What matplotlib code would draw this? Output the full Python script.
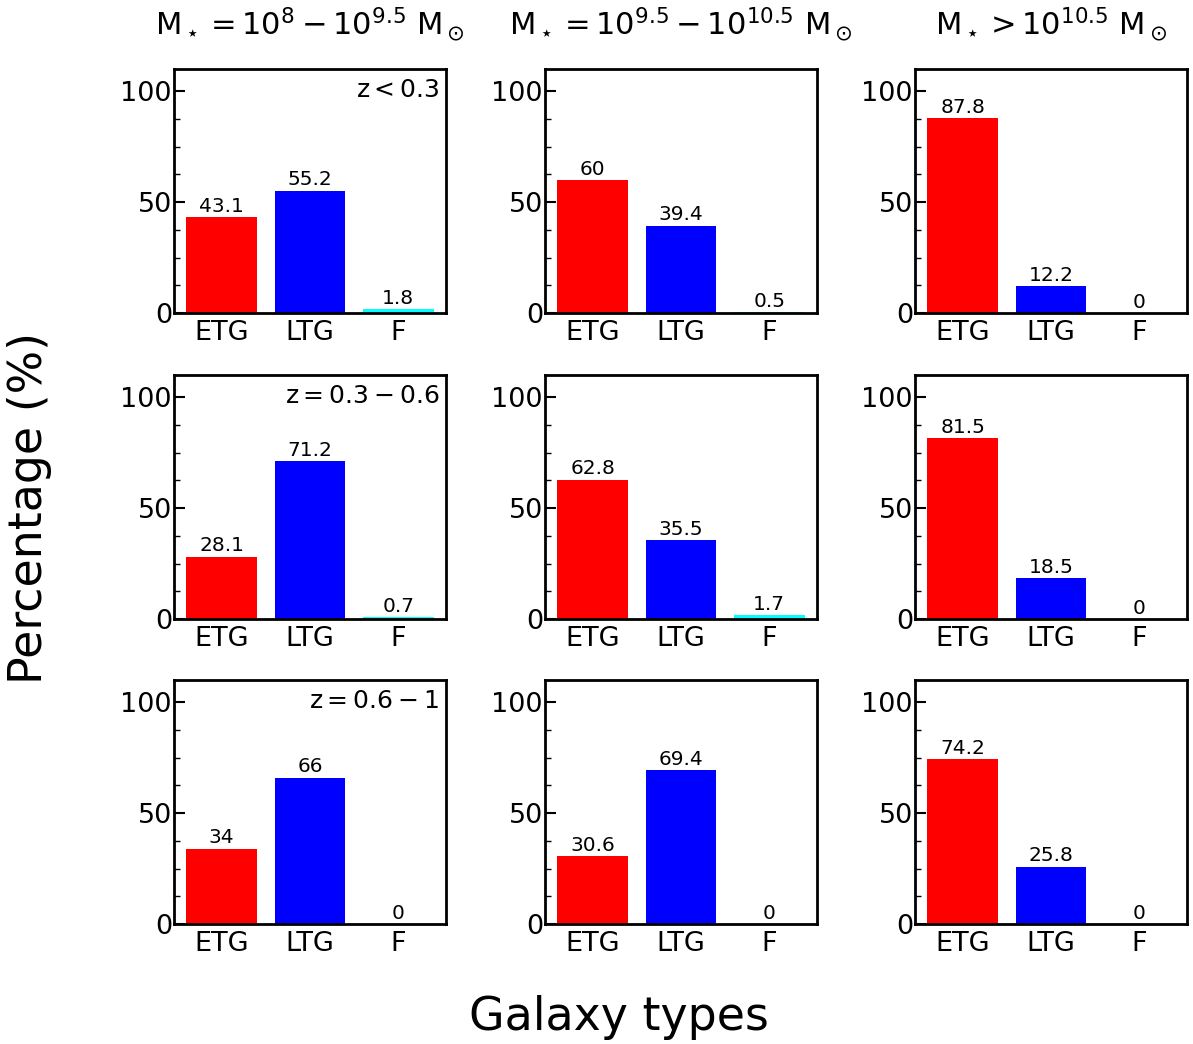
import matplotlib
matplotlib.use("Agg")
import matplotlib.pyplot as plt
from matplotlib.ticker import MultipleLocator

# Galaxy morphological fractions (%) per mass bin (columns) and redshift bin (rows)
categories = ["ETG", "LTG", "F"]
mass_titles = [
    r"M$_\star=10^{8}-10^{9.5}$ M$_\odot$",
    r"M$_\star=10^{9.5}-10^{10.5}$ M$_\odot$",
    r"M$_\star>10^{10.5}$ M$_\odot$",
]
z_labels = [r"$\mathrm{z<0.3}$", r"$\mathrm{z=0.3-0.6}$", r"$\mathrm{z=0.6-1}$"]

low_mass = [[43.1, 55.2, 1.8], [28.1, 71.2, 0.7], [34, 66, 0]]
mid_mass = [[60, 39.4, 0.5], [62.8, 35.5, 1.7], [30.6, 69.4, 0]]
high_mass = [[87.8, 12.2, 0], [81.5, 18.5, 0], [74.2, 25.8, 0]]

bar_colors = ["red", "blue", "cyan"]

W, H = 1193, 1044
fig = plt.figure(figsize=(W / 100, H / 100), dpi=100)

col_left = [174, 545, 915]
row_top = [69, 375, 680]
ax_w, ax_h = 272, 244

columns = [low_mass, mid_mass, high_mass]
for c, data in enumerate(columns):
    for r in range(3):
        ax = fig.add_axes([col_left[c] / W, 1 - (row_top[r] + ax_h) / H,
                           ax_w / W, ax_h / H])
        vals = data[r]
        bars = ax.bar(range(len(categories)), vals, width=0.8, color=bar_colors)
        ax.bar_label(bars, labels=[f"{v:g}" for v in vals], padding=1,
                     fontsize=14.5)
        ax.set_ylim(0, 110)
        ax.set_xticks(range(len(categories)))
        ax.set_xticklabels(categories, fontsize=19.5)
        ax.yaxis.set_major_locator(MultipleLocator(50))
        ax.yaxis.set_minor_locator(MultipleLocator(12.5))
        ax.tick_params(axis="y", which="major", direction="in", length=8,
                       width=1.5, labelsize=19.5, pad=1.5)
        ax.tick_params(axis="y", which="minor", direction="in", length=4,
                       width=1)
        ax.tick_params(axis="x", length=0, pad=5)
        for s in ax.spines.values():
            s.set_linewidth(2)
        if c == 0:
            ax.text(0.975, 0.965, z_labels[r], transform=ax.transAxes,
                    ha="right", va="top", fontsize=18)
        if r == 0:
            ax.set_title(mass_titles[c], fontsize=22, pad=25)

fig.text(30 / W, 1 - 508 / H, "Percentage (%)", rotation=90,
         ha="center", va="center", fontsize=33)
fig.text(619 / W, 1 - 1017 / H, "Galaxy types", ha="center", va="center",
         fontsize=33)

fig.savefig("out.png", dpi=100)
